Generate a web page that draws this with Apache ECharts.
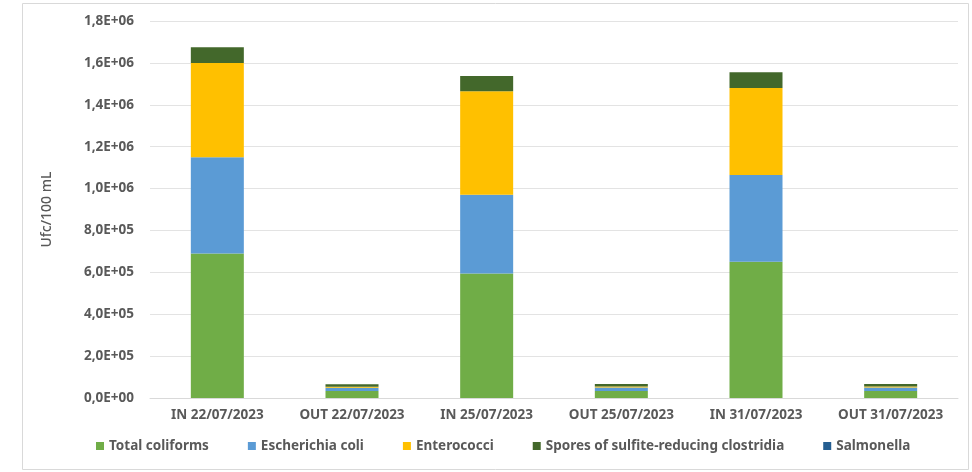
<!DOCTYPE html>
<html><head><meta charset="utf-8">
<script src="https://cdn.jsdelivr.net/npm/echarts@6/dist/echarts.min.js"></script>
<style>html,body{margin:0;padding:0;background:#fff}#c{width:972px;height:472px}</style>
</head><body><div id="c"></div>
<script>
const categories = ['IN 22/07/2023','OUT 22/07/2023','IN 25/07/2023','OUT 25/07/2023','IN 31/07/2023','OUT 31/07/2023'];
const totalColiforms = [690000, 33000, 595000, 33000, 650000, 33000];
const escherichiaColi = [460000, 16000, 375000, 17000, 415000, 17000];
const enterococci = [450000, 5000, 495000, 5000, 415000, 5000];
const spores = [75000, 12000, 72000, 12000, 75000, 12000];
const salmonella = [0, 0, 0, 0, 0, 0];
const yTickLabels = ['0,0E+00','2,0E+05','4,0E+05','6,0E+05','8,0E+05','1,0E+06','1,2E+06','1,4E+06','1,6E+06','1,8E+06'];

const font = 'Noto Sans';
const chart = echarts.init(document.getElementById('c'));
function s(name, data, color){
  return {name, type:'bar', stack:'t', data, barWidth:53,
    itemStyle:{color}};
}
chart.setOption({
  animation:false,
  textStyle:{fontFamily:font},
  graphic:[{type:'rect', shape:{x:22.5,y:3.5,width:946,height:466}, style:{fill:'none', stroke:'#d9d9d9', lineWidth:1}}],
  grid:{left:150, right:14, top:21, bottom:74},
  legend:{bottom:14, left:91, itemWidth:8, itemHeight:8, itemGap:39, icon:'rect',
    textStyle:{fontFamily:font, fontSize:13.5, fontWeight:'bold', color:'#595959'},
    data:['Total coliforms','Escherichia coli','Enterococci','Spores of sulfite-reducing clostridia','Salmonella']},
  xAxis:{type:'category', data:categories,
    axisLine:{lineStyle:{color:'#d9d9d9'}}, axisTick:{show:false},
    axisLabel:{color:'#595959', fontSize:13.5, fontWeight:'bold', fontFamily:font, margin:10, interval:0}},
  yAxis:{type:'value', min:0, max:1800000, interval:200000,
    name:'Ufc/100 mL', nameLocation:'middle', nameGap:96, nameRotate:90,
    nameTextStyle:{color:'#595959', fontSize:14, fontWeight:500, fontFamily:font},
    axisLine:{show:false}, axisTick:{show:false},
    splitLine:{lineStyle:{color:'#e3e3e3'}},
    axisLabel:{color:'#595959', fontSize:13.5, fontWeight:'bold', fontFamily:font, margin:16,
      formatter:(v)=>yTickLabels[Math.round(v/200000)]}},
  series:[
    s('Total coliforms', totalColiforms, '#70ad47'),
    s('Escherichia coli', escherichiaColi, '#5b9bd5'),
    s('Enterococci', enterococci, '#ffc000'),
    s('Spores of sulfite-reducing clostridia', spores, '#43682b'),
    s('Salmonella', salmonella, '#255e91')
  ]
});
</script></body></html>
